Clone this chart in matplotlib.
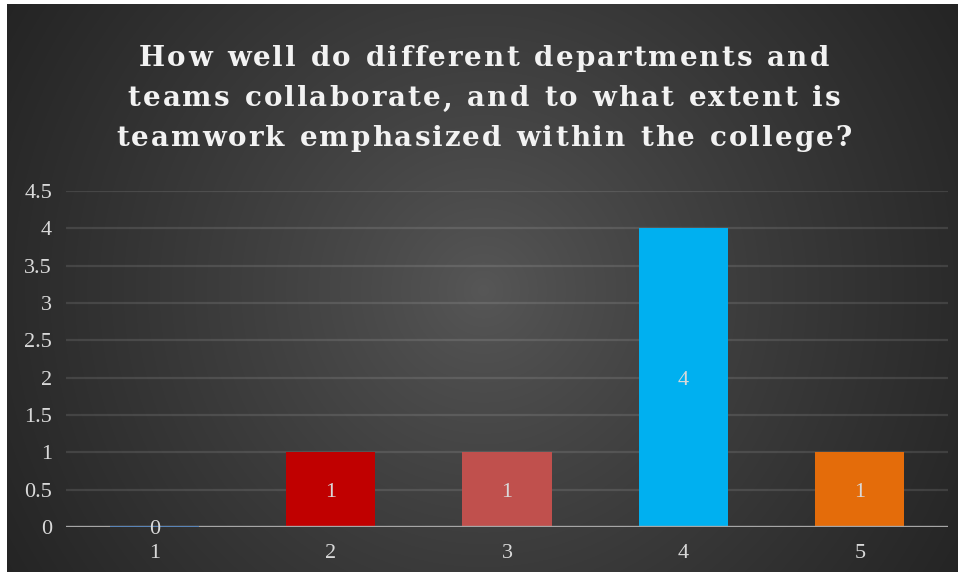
import numpy as np
import matplotlib
matplotlib.use("Agg")
import matplotlib.pyplot as plt

# ---- data ----
categories = ["1", "2", "3", "4", "5"]
counts = [0, 1, 1, 4, 1]
bar_colors = ["#4A7EBB", "#C00000", "#C0504D", "#00B0F0", "#E46C0A"]
y_ticks = [0, 0.5, 1, 1.5, 2, 2.5, 3, 3.5, 4, 4.5]
y_tick_labels = ["0", "0.5", "1", "1.5", "2", "2.5", "3", "3.5", "4", "4.5"]
title_lines = [
    "How well do different departments and",
    "teams collaborate, and to what extent is",
    "teamwork emphasized within the college?",
]

W, H = 960, 575
fig = plt.figure(figsize=(W / 100, H / 100), dpi=100, facecolor="white")

# ---- dark radial-gradient chart area ----
x0, x1, y0, y1 = 7, 958, 4, 572
bg_ax = fig.add_axes([x0 / W, 1 - y1 / H, (x1 - x0) / W, (y1 - y0) / H])
bg_ax.set_axis_off()
gx, gy = np.meshgrid(np.arange(x0, x1), np.arange(y0, y1))
cx, cy = 483, 290
r = np.hypot(gx - cx, gy - cy) / 560.0
r = np.clip(r, 0, 1)
inner, outer = 0x57, 0x24
val = (inner + (outer - inner) * r ** 0.85) / 255.0
img = np.dstack([val, val, val])
bg_ax.imshow(img, aspect="auto", interpolation="bilinear")

# ---- plot area ----
left, right = 66, 948
bottom, top = 527, 191
ax = fig.add_axes([left / W, 1 - bottom / H, (right - left) / W, (bottom - top) / H])
ax.set_facecolor("none")
x = np.arange(len(categories))
ax.set_xlim(-0.5, len(categories) - 0.5)
ax.set_ylim(0, 4.5)

for yv in y_ticks[1:]:
    ax.axhline(yv, color="white", alpha=0.11, lw=1.6, zorder=1)

bars = ax.bar(x, counts, width=0.505, color=bar_colors, zorder=2)
for b, c, col in zip(bars, counts, bar_colors):
    if c == 0:
        b.set_edgecolor(col)
        b.set_linewidth(1.2)
        b.set_zorder(4)

ax.axhline(0, color="#A6A6A6", lw=2.4, zorder=3)

label_font = "Liberation Serif"
label_size = 16
for xi, c in zip(x, counts):
    ax.text(xi, c / 2, str(c), ha="center", va="center_baseline", color="#D9D9D9",
            fontsize=label_size, family=label_font, zorder=5)

for s in ax.spines.values():
    s.set_visible(False)
ax.set_yticks(y_ticks)
ax.set_yticklabels(y_tick_labels)
ax.set_xticks(x)
ax.set_xticklabels(categories)
ax.tick_params(axis="both", length=0, colors="#D9D9D9", labelsize=label_size)
ax.tick_params(axis="y", pad=10)
ax.tick_params(axis="x", pad=12)
for lab in ax.get_xticklabels() + ax.get_yticklabels():
    lab.set_family(label_font)

# ---- letter-spaced title ----
fig.canvas.draw()
renderer = fig.canvas.get_renderer()
title_size = 20
tracking = 2.0  # extra pixels between letters
line_centers_y = [59, 99, 138]
for line, yc in zip(title_lines, line_centers_y):
    widths = []
    for ch in line:
        t = fig.text(0, 0, ch if ch != " " else "n", fontsize=title_size,
                     family="DejaVu Serif", weight="bold")
        w = t.get_window_extent(renderer).width
        if ch == " ":
            w *= 0.55
        widths.append(w)
        t.remove()
    total = sum(widths) + tracking * (len(line) - 1)
    xpos = 484 - total / 2
    for ch, w in zip(line, widths):
        if ch != " ":
            fig.text(xpos / W, 1 - yc / H, ch, fontsize=title_size,
                     family="DejaVu Serif", weight="bold", color="#F2F2F2",
                     ha="left", va="center")
        xpos += w + tracking

fig.savefig("out.png", dpi=100, facecolor="white")
